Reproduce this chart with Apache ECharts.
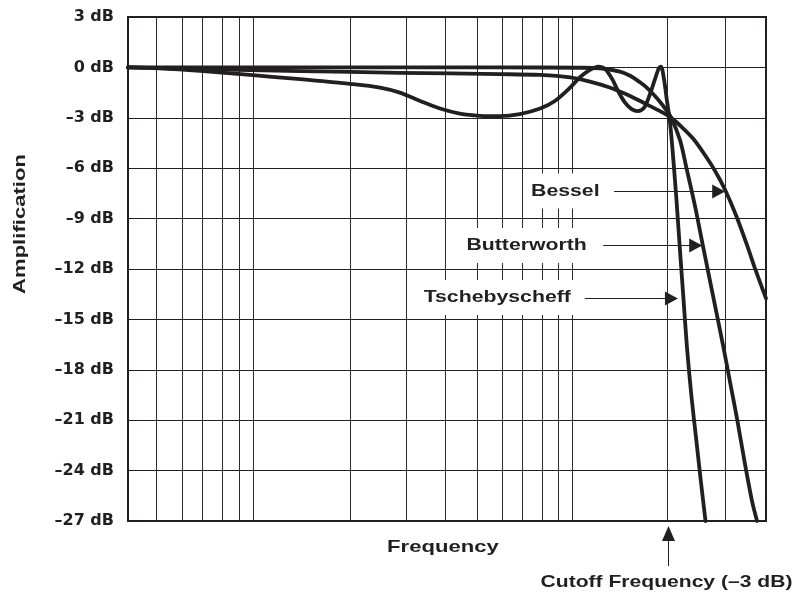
<!DOCTYPE html>
<html><head><meta charset="utf-8">
<script src="https://cdn.jsdelivr.net/npm/echarts@6/dist/echarts.min.js"></script>
<style>html,body{margin:0;padding:0;background:#fff}#c{width:793px;height:599px}</style>
</head><body><div id="c"></div>
<script>
// x = relative (log) frequency position across the plot: 0 = left edge, 100 = right edge
const xGridLines = [4.4, 8.5, 11.6, 14.7, 17.4, 19.6, 34.8, 43.6, 49.8, 54.7, 58.6, 61.8, 64.9, 67.4, 69.6, 84.6, 93.6];
const yTickValues = [3, 0, -3, -6, -9, -12, -15, -18, -21, -24, -27];
const cutoffX = 84.6;

const tschebyX = [0, 5.0, 11.3, 19.1, 27.0, 34.8, 39.5, 42.6, 45.8, 48.9, 52.0, 55.2, 58.3, 61.4, 64.6, 66.9, 69.3, 70.8, 72.4, 73.7, 74.8, 75.9, 76.8, 77.9, 79.0, 79.9, 80.9, 81.8, 82.6, 83.2, 83.54, 84.01, 84.48, 84.87, 85.19, 85.5, 85.97, 86.52, 87.07, 87.62, 88.32, 89.11, 89.81, 90.52];
const tschebyDb = [0, -0.05, -0.2, -0.45, -0.7, -0.98, -1.2, -1.5, -2.0, -2.45, -2.75, -2.88, -2.9, -2.78, -2.45, -2.0, -1.2, -0.6, -0.15, 0.05, -0.1, -0.7, -1.4, -2.1, -2.5, -2.6, -2.4, -1.6, -0.7, -0.05, 0.05, -0.7, -2.0, -3.0, -4.2, -5.6, -7.9, -10.9, -13.8, -16.7, -19.6, -22.3, -24.7, -27];

const butterX = [0, 27.0, 58.3, 70.8, 74.0, 77.1, 78.7, 80.3, 81.3, 82.6, 83.7, 85.0, 86.5, 87.6, 88.9, 90.1, 91.7, 93.3, 94.4, 95.5, 96.7, 97.8, 98.6];
const butterDb = [0, 0, 0, -0.02, -0.05, -0.25, -0.5, -0.9, -1.2, -1.7, -2.2, -2.9, -4.3, -6.1, -8.3, -10.6, -13.6, -16.6, -18.8, -21, -23.6, -25.8, -27];

const besselX = [0, 11.3, 27.0, 42.6, 58.3, 64.6, 69.3, 72.4, 75.5, 78.7, 81.3, 83.4, 85.0, 86.8, 88.6, 90.4, 92.0, 93.6, 95.3, 97.0, 98.4, 100];
const besselDb = [0, -0.1, -0.22, -0.32, -0.4, -0.45, -0.6, -0.85, -1.2, -1.7, -2.2, -2.6, -2.96, -3.55, -4.25, -5.2, -6.15, -7.3, -8.8, -10.55, -12.1, -13.75];

// annotation labels
const labelNames = ['Bessel', 'Butterworth', 'Tschebyscheff'];
const labelRightX = [74.5, 72.5, 70.0];
const arrowStartX = [76.2, 74.5, 71.6];
const arrowTipX = [93.6, 90.0, 86.2];
const labelDb = [-7.35, -10.6, -13.7];

(function () {
const INK = '#231f20';
const LIB = '"Liberation Sans", Arial, Helvetica, sans-serif';
const zip = (xs, ys) => xs.map((x, i) => [x, ys[i]]);
const fmt = v => (v < 0 ? '\u2013' + Math.abs(v) : String(v)) + ' dB';

const chart = echarts.init(document.getElementById('c'), null, {renderer: 'canvas'});

const curveStyle = {color: INK, width: 3.8, cap: 'round', join: 'round'};
const curve = (name, xs, ys) => ({
  name, type: 'line', data: zip(xs, ys), showSymbol: false, smooth: 0.3,
  lineStyle: curveStyle, itemStyle: {color: INK}, clip: true, z: 5, silent: true
});

chart.setOption({
  animation: false,
  backgroundColor: '#fff',
  grid: {left: 128, right: 27, top: 17, bottom: 78, show: true, borderColor: INK, borderWidth: 2, containLabel: false},
  xAxis: {
    type: 'value', min: 0, max: 100,
    axisLine: {show: false}, axisTick: {show: false}, axisLabel: {show: false}, splitLine: {show: false}
  },
  yAxis: {
    type: 'value', min: -27, max: 3, interval: 3,
    axisLine: {show: false}, axisTick: {show: false},
    splitLine: {show: true, lineStyle: {color: INK, width: 1}},
    axisLabel: {
      formatter: fmt, margin: 14, color: INK,
      fontFamily: '"DejaVu Sans", sans-serif', fontWeight: 'bold', fontSize: 16
    }
  },
  series: [
    {
      type: 'line', data: [], silent: true, z: 1,
      markLine: {
        silent: true, symbol: 'none', animation: false,
        label: {show: false},
        lineStyle: {color: '#2b2b2b', width: 1, type: 'solid'},
        emphasis: {disabled: true},
        data: xGridLines.map(v => ({xAxis: v}))
      }
    },
    curve('Tschebyscheff', tschebyX, tschebyDb),
    curve('Butterworth', butterX, butterDb),
    curve('Bessel', besselX, besselDb)
  ]
});

const px = (x, y) => chart.convertToPixel({gridIndex: 0}, [x, y]);
const graphics = [];
labelNames.forEach((n, i) => {
  const p = px(labelRightX[i], labelDb[i]);
  graphics.push({
    type: 'text', x: p[0], y: p[1], scaleX: 1.25, z: 50,
    style: {text: n, font: 'bold 17px ' + LIB, fill: INK, align: 'right', verticalAlign: 'middle',
            backgroundColor: '#fff', padding: [9, 3, 9, 3]}
  });
  const a = px(arrowStartX[i], labelDb[i]);
  const t = px(arrowTipX[i], labelDb[i]);
  const yy = Math.round(a[1]) + 0.5;
  graphics.push({
    type: 'line', z: 50,
    shape: {x1: a[0], y1: yy, x2: t[0] - 10, y2: yy},
    style: {stroke: INK, lineWidth: 1}
  });
  graphics.push({
    type: 'polygon', z: 50,
    shape: {points: [[t[0], yy], [t[0] - 13, yy - 7], [t[0] - 13, yy + 7]]},
    style: {fill: INK}
  });
});
const pLeft = px(0, -27), pRight = px(100, -27), pTop = px(0, 3);
const cx = Math.round(px(cutoffX, -27)[0]) + 0.5;
const bottomY = pLeft[1];
graphics.push({
  type: 'text', x: (pLeft[0] + pRight[0]) / 2 - 4, y: bottomY + 26, scaleX: 1.3, z: 50,
  style: {text: 'Frequency', font: 'bold 17px ' + LIB, fill: INK, align: 'center', verticalAlign: 'middle'}
});
graphics.push({
  type: 'text', x: 20, y: (pTop[1] + bottomY) / 2 - 45, rotation: Math.PI / 2, scaleX: 1.3, z: 50,
  style: {text: 'Amplification', font: 'bold 17px ' + LIB, fill: INK, align: 'center', verticalAlign: 'middle'}
});
graphics.push({
  type: 'text', x: cx - 2, y: bottomY + 61, scaleX: 1.24, z: 50,
  style: {text: 'Cutoff Frequency (\u20133 dB)', font: 'bold 17px ' + LIB, fill: INK, align: 'center', verticalAlign: 'middle'}
});
graphics.push({
  type: 'line', z: 50,
  shape: {x1: cx, y1: bottomY + 45, x2: cx, y2: bottomY + 18},
  style: {stroke: INK, lineWidth: 1}
});
graphics.push({
  type: 'polygon', z: 50,
  shape: {points: [[cx, bottomY + 5], [cx - 6.5, bottomY + 20], [cx + 6.5, bottomY + 20]]},
  style: {fill: INK}
});
chart.setOption({graphic: graphics});
})();
</script>
</body></html>
